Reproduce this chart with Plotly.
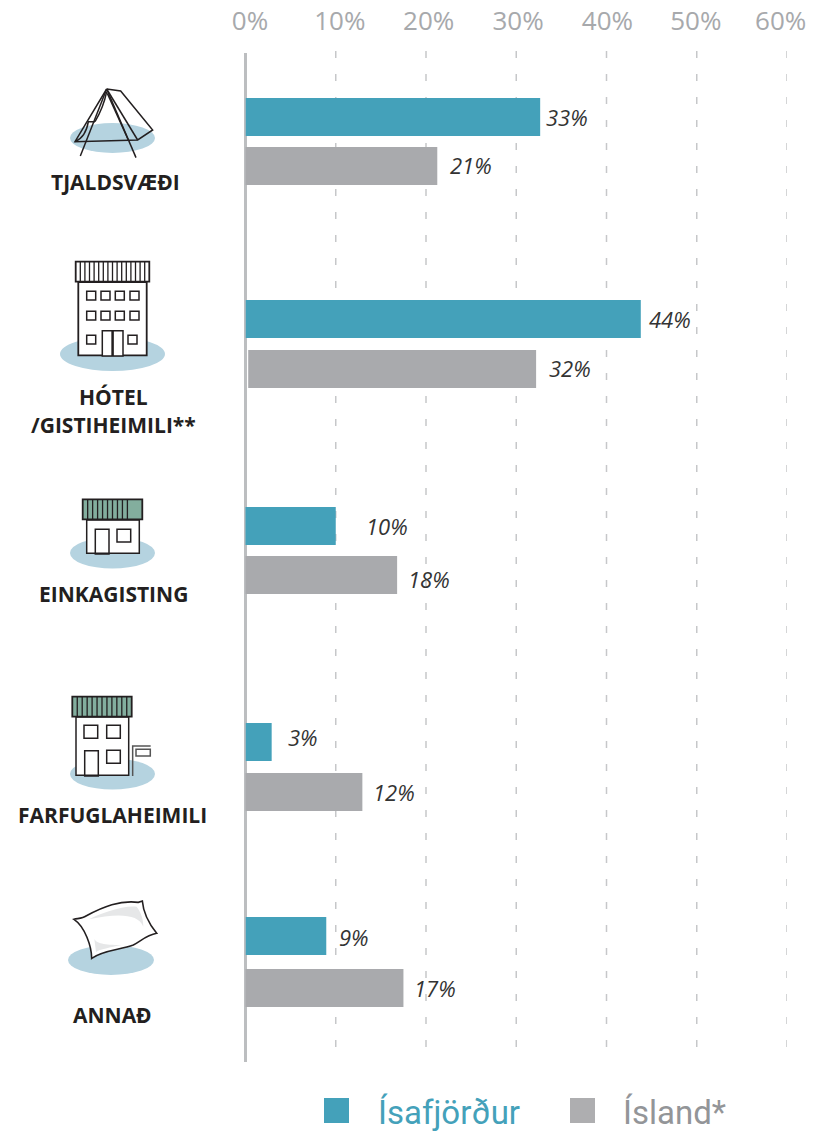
import plotly.graph_objects as go

W, H = 814, 1131
TEAL, GREY = "#44a1ba", "#a9aaad"
BLOB, ROOF, INK = "#b5d3e0", "#83ae9e", "#231f20"

# ---- data ----
row_isa = [117, 319, 526, 742, 936]
row_isl = [166, 369, 575, 792, 988]
bars_isa = [32.65, 43.8, 10.0, 2.9, 8.95]
bars_isl = [21.25, 32.2, 16.8, 12.95, 17.5]
base_isa = [0, 0, -0.1, 0, 0]
base_isl = [-0.1, 0.3, -0.1, -0.1, -0.1]
labels_isa = ["33%", "44%", "10%", "3%", "9%"]
labels_isl = ["21%", "32%", "18%", "12%", "17%"]
label_x_isa = [545, 648, 364.5, 287, 337.5]
label_x_isl = [449, 548, 407.5, 371.5, 412.5]
label_y_isa = [117, 319, 526, 737, 937]
label_y_isl = [165, 368, 579, 792, 988]
grid_vals = [10, 20, 30, 40, 50, 60]
tick_vals = [0.5, 10.45, 20.3, 30.2, 40.1, 49.9, 59.3]
tick_text = ["0%", "10%", "20%", "30%", "40%", "50%", "60%"]
categories = ["TJALDSVÆÐI", "HÓTEL", "/GISTIHEIMILI**", "EINKAGISTING", "FARFUGLAHEIMILI", "ANNAÐ"]
cat_x = [115, 113, 113, 113, 112.5, 112.5]
cat_y = [182, 397, 425, 594, 815, 1015]
series_names = ["Ísafjörður", "Ísland*"]

fig = go.Figure()
fig.add_bar(y=row_isa, x=[b - s for b, s in zip(bars_isa, base_isa)], base=base_isa,
            orientation="h", width=38, marker=dict(color=TEAL, line_width=0), name=series_names[0])
fig.add_bar(y=row_isl, x=[b - s for b, s in zip(bars_isl, base_isl)], base=base_isl,
            orientation="h", width=38, marker=dict(color=GREY, line_width=0), name=series_names[1])

ann = []
shapes = []


def px(x):
    return x / W


def py(y):
    return 1 - y / H


def text(x, y, s, size, color, anchor="center", **font):
    ann.append(dict(xref="paper", yref="paper", x=px(x), y=py(y), text=s, showarrow=False,
                    xanchor=anchor, yanchor="middle", borderpad=0,
                    font=dict(size=size, color=color, **font)))


def P(d, ox, oy):
    """Path written in 3x crop coordinates -> paper coordinates."""
    out = []
    num = []
    toks = d.split()
    for t in toks:
        if t.isalpha():
            out.append(t)
        else:
            num.append(float(t))
            if len(num) == 2:
                out.append(f"{px(num[0] / 3 + ox):.5f},{py(num[1] / 3 + oy):.5f}")
                num = []
    return " ".join(out)


def path(d, ox, oy, fill=None, line=INK, lw=1.5):
    shapes.append(dict(type="path", xref="paper", yref="paper", path=P(d, ox, oy),
                       fillcolor=fill or "rgba(0,0,0,0)",
                       line=dict(color=line, width=lw) if line else dict(width=0)))


def rect(x0, y0, x1, y1, fill=None, line=INK, lw=1.5):
    shapes.append(dict(type="rect", xref="paper", yref="paper", x0=px(x0), x1=px(x1), y0=py(y0), y1=py(y1),
                       fillcolor=fill or "rgba(0,0,0,0)",
                       line=dict(color=line, width=lw) if line else dict(width=0)))


def ellipse(cx, cy, rx, ry):
    shapes.append(dict(type="circle", xref="paper", yref="paper", x0=px(cx - rx), x1=px(cx + rx),
                       y0=py(cy - ry), y1=py(cy + ry), fillcolor=BLOB, line_width=0))


def roof(x0, y0, x1, y1, n, fill="#ffffff", skip_last=0):
    rect(x0, y0, x1, y1, fill=fill, lw=1.8)
    for i in range(1, n - skip_last):
        xx = x0 + (x1 - x0) * i / n
        rect(xx, y0, xx, y1, lw=1.3)


# dashed grid, below the bars
for g in grid_vals:
    shapes.append(dict(type="line", xref="x", yref="paper", x0=g, x1=g, y0=py(51), y1=py(1062),
                       layer="below", line=dict(color="#c6c7c9", width=1.5, dash="7px,16px")))

# tent
ellipse(112.5, 138, 42.5, 15)
for d in ["M 320 87 L 362 93 L 458 210 L 413 240 L 225 245 L 320 87",
          "M 320 87 L 241 288", "M 320 87 L 408 293", "M 320 87 L 413 240",
          "M 322 100 L 385 240",
          "M 225 245 C 250 235 260 215 265 185 L 285 185",
          "M 320 95 C 315 120 300 160 285 185"]:
    path(d, 0, 60)

# hotel
ellipse(112.5, 354, 52.5, 17)
rect(78.3, 282, 146.7, 355.3, fill="#ffffff", lw=1.8)
roof(75.7, 261.7, 149.3, 281.7, 16)
for wx in (86.7, 101, 115.3, 130):
    rect(wx, 291.3, wx + 9, 300)
    rect(wx, 311.3, wx + 9, 320)
rect(86.7, 335.3, 95.7, 344)
rect(128, 335.3, 137, 344)
rect(102.3, 330.7, 123, 356, fill="#ffffff")
rect(112.6, 330.7, 112.6, 356, lw=2.5)

# private house
ellipse(112.5, 553, 42.5, 15.5)
rect(86.7, 520, 139.3, 553.3, fill="#ffffff")
roof(82.7, 499.3, 142.3, 519.3, 12, fill=ROOF, skip_last=2)
rect(95.3, 529.3, 109, 554)
rect(117, 529.3, 130.7, 542)

# hostel
ellipse(112.5, 774, 42.5, 15.5)
rect(76, 717, 128.7, 775.3, fill="#ffffff")
roof(72.3, 696.7, 131.7, 716.7, 12, fill=ROOF)
rect(84, 725.3, 97.7, 738.3)
rect(106.7, 725.3, 120.3, 738.3)
rect(84.7, 750.7, 98.3, 776)
rect(106.7, 750.3, 120.3, 763.3)
path("M 398 258 L 398 168 L 452 168", 0, 690, line="#555555")
rect(136, 749.3, 150.3, 756, line="#555555")

# pillow
ellipse(111, 960, 43, 15)
path("M 222 88 C 235 85 248 85 258 78 C 310 50 360 30 415 37 L 427 33 C 430 70 450 105 470 130 "
     "C 440 135 420 155 400 165 C 360 180 310 180 275 205 C 275 170 255 110 222 88 Z",
     0, 890, fill="#ffffff", lw=1.6)
path("M 267 88 C 300 70 370 45 410 50 C 425 70 430 90 430 110 C 415 70 350 70 267 88 Z",
     0, 890, fill="#e6e7e8", line=None)
path("M 283 147 C 290 160 310 165 365 165 C 330 172 300 178 288 186 Z",
     0, 890, fill="#e6e7e8", line=None)

# value labels
for x, y, s in zip(label_x_isa + label_x_isl, label_y_isa + label_y_isl, labels_isa + labels_isl):
    text(x, y, s, 22, "#333333", anchor="left", family="Open Sans", style="italic")

# category labels
for x, y, s in zip(cat_x, cat_y, categories):
    text(x, y, s, 21, INK, family="Open Sans", weight="bold")

# legend
rect(324, 1098, 349, 1123, fill=TEAL, line=None)
rect(570, 1098, 595, 1123, fill="#aeaeb0", line=None)
text(376.5, 1112, series_names[0], 33, TEAL, anchor="left", family="Roboto")
text(622, 1112, series_names[1], 33, "#939598", anchor="left", family="Roboto")

fig.update_layout(
    template="none",
    width=W, height=H, margin=dict(l=0, r=0, t=0, b=0, pad=0),
    paper_bgcolor="#ffffff", plot_bgcolor="#ffffff", showlegend=False,
    barmode="overlay", annotations=ann, shapes=shapes,
    font=dict(family="Open Sans"),
    xaxis=dict(domain=[245.5 / W, 787 / W], range=[0, 60], side="top", tickmode="array",
               tickvals=tick_vals, ticktext=tick_text, ticks="", ticklabelstandoff=17,
               automargin=False,
               tickfont=dict(size=26, color="#a7a9ac", family="Open Sans"),
               showgrid=False,
               zeroline=True, zerolinecolor="#bcbec0", zerolinewidth=3, showline=False),
    yaxis=dict(domain=[1 - 1062 / H, 1 - 53 / H], range=[1062, 53], visible=False, automargin=False),
)
fig.write_html("out.html", config=dict(displayModeBar=False),
               post_script="document.body.style.margin='0';")
